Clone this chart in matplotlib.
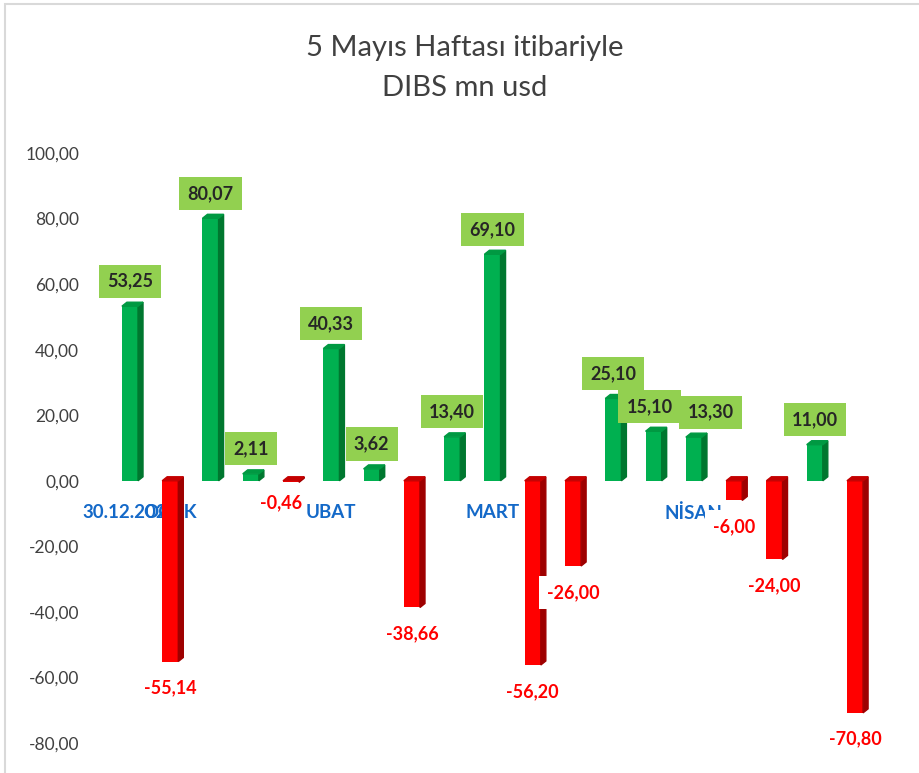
import matplotlib
matplotlib.use('Agg')
import matplotlib.pyplot as plt
from matplotlib.patches import Polygon, Rectangle
import numpy as np

# weekly DIBS flows, mn usd
values = [53.25, -55.14, 80.07, 2.11, -0.46, 40.33, 3.62, -38.66, 13.40, 69.10,
          -56.20, -26.00, 25.10, 15.10, 13.30, -6.00, -24.00, 11.00, -70.80]
categories = ["30.12.2022", "OCAK", "", "", "", "UBAT", "", "", "", "MART",
              "", "", "", "", "NİSAN", "", "", "", ""]
yticks = [-80, -60, -40, -20, 0, 20, 40, 60, 80, 100]

plt.rcParams['font.family'] = ['Lato', 'DejaVu Sans']


def tr(v):
    return f"{v:.2f}".replace('.', ',')


fig = plt.figure(figsize=(9.19, 7.73), dpi=100)
ax = fig.add_axes([0.1195, 0.0388, 0.8328, 0.7633])

x = np.arange(len(values))
w = 0.40   # front face width
dx = 0.124  # depth of the fake 3d side
dy = 1.22

for xi, v in zip(x, values):
    if v >= 0:
        front, side, top = '#00B050', '#00772F', '#009942'
    else:
        front, side, top = '#FF0000', '#9E0000', '#C40000'
    ax.bar(xi, v, width=w, color=front, zorder=2)
    xl, xr = xi - w / 2, xi + w / 2
    ax.add_patch(Polygon([(xr, 0), (xr + dx, dy), (xr + dx, v + dy), (xr, v)],
                         closed=True, color=side, zorder=2))
    t = max(v, 0)
    ax.add_patch(Polygon([(xl, t), (xl + dx, t + dy), (xr + dx, t + dy), (xr, t)],
                         closed=True, color=top, zorder=2))

# data labels, a few nudged like in the original
nudge = {4: (-7, 4), 13: (-3, 0), 14: (12, 0)}
for i, v in enumerate(values):
    ox, oy = nudge.get(i, (0, 0))
    if v >= 0:
        ax.annotate(tr(v), (i, v), xytext=(ox, 18 + oy), textcoords='offset points',
                    ha='center', va='center', fontsize=13, fontweight='bold',
                    color='#262626', zorder=6,
                    bbox=dict(boxstyle='square,pad=0.45', fc='#92D050', ec='none'))
    else:
        pad = 0.15 if i == 4 else 0.45
        ax.annotate(tr(v), (i, v), xytext=(ox, -19 + oy), textcoords='offset points',
                    ha='center', va='center', fontsize=13, fontweight='bold',
                    color='#FF0000', zorder=6,
                    bbox=dict(boxstyle=f'square,pad={pad}', fc='white', ec='none'))

ax.set_xlim(-0.5, len(values) - 0.5)
ax.set_ylim(-80, 100)
ax.set_yticks(yticks)
ax.set_yticklabels([tr(t) for t in yticks], fontsize=12.5, color='#404040')
ax.tick_params(axis='y', length=0, pad=22)

ax.spines['bottom'].set_position(('data', 0))
ax.set_xticks(x)
ax.set_xticklabels(categories, fontsize=13.5, fontweight='bold', color='#1469C8')
ax.tick_params(axis='x', length=0, pad=17)
for s in ax.spines.values():
    s.set_visible(False)

fig.text(0.506, 1 - 48 / 773, "5 Mayıs Haftası itibariyle", ha='center', va='center',
         fontsize=21, color='#404040')
fig.text(0.506, 1 - 88 / 773, "DIBS mn usd", ha='center', va='center',
         fontsize=21, color='#404040')

fig.patches.append(Rectangle((5 / 919, -0.1), 2, 1.1 - 4 / 773, fill=False,
                             edgecolor='#d9d9d9', lw=1.5, transform=fig.transFigure))

fig.savefig('out.png', dpi=100)
